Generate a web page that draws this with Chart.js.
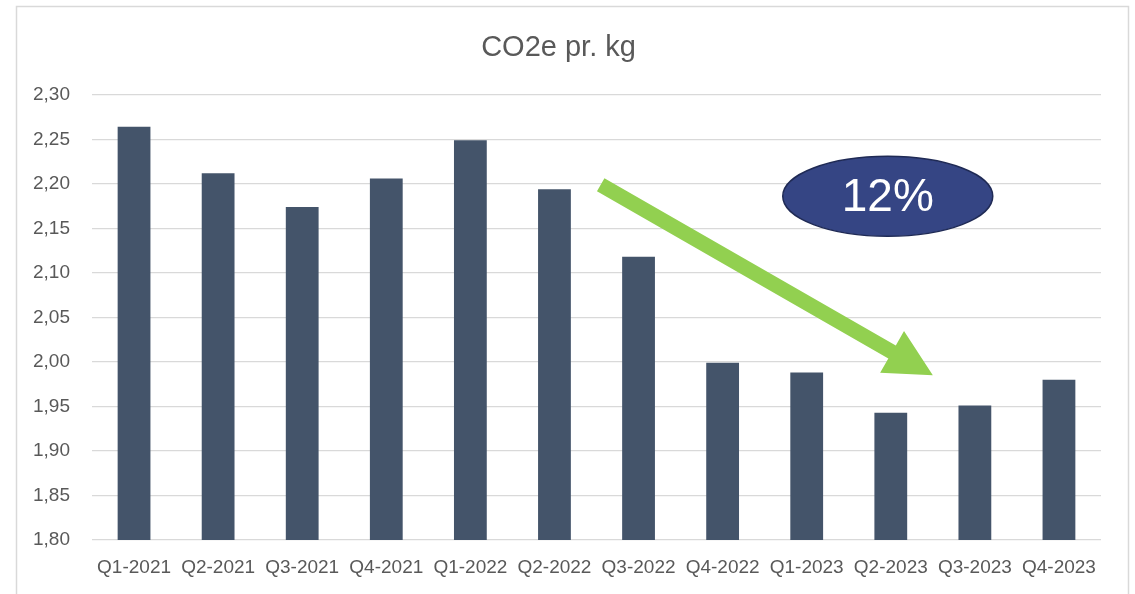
<!DOCTYPE html>
<html>
<head>
<meta charset="utf-8">
<script src="https://cdn.jsdelivr.net/npm/chart.js@4.4.1/dist/chart.umd.min.js"></script>
<style>
  html, body { margin: 0; padding: 0; background: #ffffff; }
  #wrap { width: 1135px; height: 594px; position: relative; }
</style>
</head>
<body>
<div id="wrap"><canvas id="c" width="1135" height="594"></canvas></div>
<script>
const categories = ['Q1-2021','Q2-2021','Q3-2021','Q4-2021','Q1-2022','Q2-2022','Q3-2022','Q4-2022','Q1-2023','Q2-2023','Q3-2023','Q4-2023'];
const co2Values = [2.264, 2.212, 2.174, 2.206, 2.249, 2.194, 2.118, 1.999, 1.988, 1.943, 1.951, 1.980];
const yTicks = [1.80, 1.85, 1.90, 1.95, 2.00, 2.05, 2.10, 2.15, 2.20, 2.25, 2.30];
const chartTitle = 'CO2e pr. kg';
const calloutText = '12%';
// annotation anchors in data coordinates (category index, value)
const arrowFrom = [5.55, 2.199];
const arrowTo = [9.5, 1.985];
const calloutCenter = [8.964, 2.186];

const TEXT = '#595959';
const FONT = '"Liberation Sans", Arial, sans-serif';

const decorPlugin = {
  id: 'decor',
  beforeDraw(chart) {
    const ctx = chart.ctx;
    ctx.save();
    ctx.strokeStyle = '#d9d9d9';
    ctx.lineWidth = 1.5;
    ctx.strokeRect(16.5, 6.5, 1112, 620);
    ctx.restore();
  },
  afterDatasetsDraw(chart) {
    const ctx = chart.ctx;
    const xs = chart.scales.x, ys = chart.scales.y;
    const x0 = xs.getPixelForValue(arrowFrom[0]), y0 = ys.getPixelForValue(arrowFrom[1]);
    const x1 = xs.getPixelForValue(arrowTo[0]), y1 = ys.getPixelForValue(arrowTo[1]);
    const dx = x1 - x0, dy = y1 - y0, len = Math.hypot(dx, dy);
    const ux = dx / len, uy = dy / len, nx = -uy, ny = ux;
    const headLen = 47, headHalf = 24, shaftHalf = 7.5;
    const bx = x1 - ux * headLen, by = y1 - uy * headLen;
    ctx.save();
    ctx.fillStyle = '#92d050';
    ctx.beginPath();
    ctx.moveTo(x0 + nx * shaftHalf, y0 + ny * shaftHalf);
    ctx.lineTo(bx + nx * shaftHalf, by + ny * shaftHalf);
    ctx.lineTo(bx + nx * headHalf, by + ny * headHalf);
    ctx.lineTo(x1, y1);
    ctx.lineTo(bx - nx * headHalf, by - ny * headHalf);
    ctx.lineTo(bx - nx * shaftHalf, by - ny * shaftHalf);
    ctx.lineTo(x0 - nx * shaftHalf, y0 - ny * shaftHalf);
    ctx.closePath();
    ctx.fill();

    const cx = xs.getPixelForValue(calloutCenter[0]), cy = ys.getPixelForValue(calloutCenter[1]);
    ctx.beginPath();
    ctx.ellipse(cx, cy, 105, 40, 0, 0, Math.PI * 2);
    ctx.fillStyle = '#354584';
    ctx.fill();
    ctx.lineWidth = 1.5;
    ctx.strokeStyle = '#1f2a55';
    ctx.stroke();
    ctx.fillStyle = '#ffffff';
    ctx.font = '46px ' + FONT;
    ctx.textAlign = 'center';
    ctx.textBaseline = 'middle';
    ctx.fillText(calloutText, cx, cy + 2);
    ctx.restore();
  }
};

new Chart(document.getElementById('c'), {
  type: 'bar',
  data: {
    labels: categories,
    datasets: [{
      data: co2Values,
      backgroundColor: '#44546a',
      borderWidth: 0,
      barPercentage: 0.78,
      categoryPercentage: 0.5
    }]
  },
  options: {
    responsive: false,
    animation: false,
    devicePixelRatio: 1,
    layout: { padding: { left: 16, right: 34, top: 0, bottom: 0 } },
    plugins: {
      legend: { display: false },
      tooltip: { enabled: false },
      title: {
        display: true,
        text: chartTitle,
        color: TEXT,
        font: { family: FONT, size: 29, weight: 'normal' },
        padding: { top: 31, bottom: 29 }
      }
    },
    scales: {
      x: {
        grid: { display: false, drawTicks: false },
        border: { display: false },
        ticks: { color: TEXT, font: { family: FONT, size: 19 }, padding: 16, autoSkip: false, maxRotation: 0, minRotation: 0 },
        afterFit(s) { s.height = 54; }
      },
      y: {
        min: 1.80,
        max: 2.30,
        afterBuildTicks(s) { s.ticks = yTicks.map(v => ({ value: v })); },
        grid: { color: '#d9d9d9', lineWidth: 1.3, drawTicks: false },
        border: { display: false },
        ticks: {
          color: TEXT,
          font: { family: FONT, size: 19 },
          padding: 22,
          callback: v => v.toFixed(2).replace('.', ',')
        },
        afterFit(s) { s.width = 76; }
      }
    }
  },
  plugins: [decorPlugin]
});
</script>
</body>
</html>
